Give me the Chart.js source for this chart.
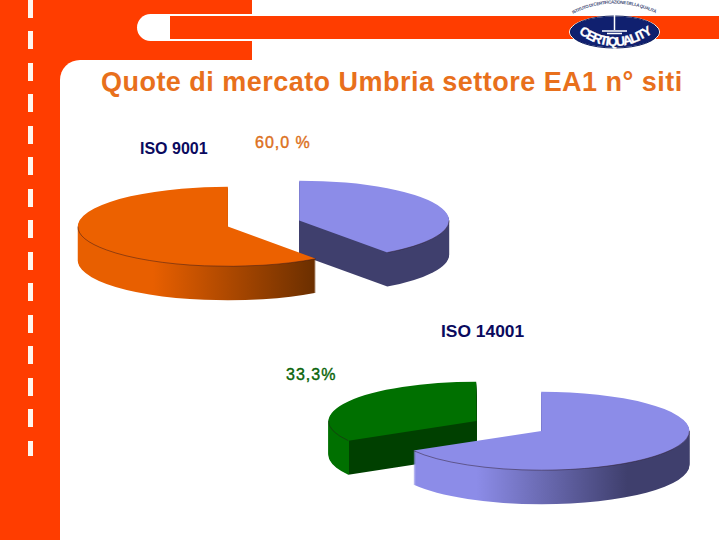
<!DOCTYPE html>
<html lang="it">
<head>
<meta charset="utf-8">
<title>Quote di mercato Umbria settore EA1</title>
<script src="https://cdn.jsdelivr.net/npm/chart.js@4"></script>
<style>
html,body{margin:0;padding:0;background:#fff;}
#page{position:relative;width:720px;height:540px;overflow:hidden;background:#fff;font-family:"Liberation Sans",Arial,sans-serif;}
.red{position:absolute;background:#ff3d00;}
.abs{position:absolute;white-space:nowrap;line-height:1;font-weight:bold;}
canvas{position:absolute;}
</style>
</head>
<body>
<div id="page">
  <!-- slide frame -->
  <div class="red" style="left:0;top:0;width:60px;height:540px"></div>
  <div class="red" style="left:60px;top:0;width:192px;height:60px"></div>
  <div style="position:absolute;left:60px;top:60px;width:30px;height:30px;background:#ff3d00"></div>
  <div style="position:absolute;left:60px;top:60px;width:40px;height:40px;background:#fff;border-top-left-radius:20px"></div>
  <div style="position:absolute;left:137px;top:14px;width:120px;height:27px;background:#fff;border-radius:14px 0 0 14px"></div>
  <div class="red" style="left:170px;top:16px;width:549px;height:23px"></div>
  <div style="position:absolute;left:28px;top:0;width:5px;height:456px;background:repeating-linear-gradient(to bottom,#fff6ee 0,#fff6ee 18px,#ff3d00 18px,#ff3d00 31.5px)"></div>

  <!-- logo -->
  <svg style="position:absolute;left:560px;top:0" width="110" height="55" viewBox="0 0 110 55">
    <defs>
      <path id="arcTop" d="M13 14 Q54 -7 97 14"/>
      <path id="arcBottom" d="M17 32 Q54 60 94 32"/>
    </defs>
    <ellipse cx="54.5" cy="32" rx="45" ry="16" fill="#10206f" stroke="#fff" stroke-width="1"/>
    <ellipse cx="54.5" cy="32" rx="44" ry="16" fill="none" stroke="#0b1a5c"/>
    <path d="M54.5 8V30M42 31H67M47 33.500H62" stroke="#fff" stroke-width="1.500" fill="none"/>
    <text font-size="4.500" fill="#4a5580" font-family="Liberation Sans" font-weight="bold"><textPath href="#arcTop" textLength="86">ISTITUTO DI CERTIFICAZIONE DELLA QUALITÀ</textPath></text>
    <text font-size="13" fill="#fff" stroke="#fff" stroke-width="0.300" font-family="Liberation Sans" font-weight="bold"><textPath href="#arcBottom" startOffset="2" textLength="80">CERTIQUALITY</textPath></text>
  </svg>

  <div class="abs" style="left:101px;top:69px;font-size:27px;letter-spacing:0.470px;color:#e8701c">Quote di mercato Umbria settore EA1 n° siti</div>
  <div class="abs" style="left:140px;top:141px;font-size:16px;color:#0a0a5e">ISO 9001</div>
  <div class="abs" style="left:255px;top:135px;font-size:16px;color:#dc7020;font-weight:normal;-webkit-text-stroke:0.400px #dc7020;letter-spacing:1px">60,0 %</div>
  <div class="abs" style="left:441px;top:323px;font-size:17.400px;color:#0a0a5e">ISO 14001</div>
  <div class="abs" style="left:286px;top:367px;font-size:16px;color:#0a640a;font-weight:normal;-webkit-text-stroke:0.400px #0a640a;letter-spacing:1px">33,3%</div>

  <canvas id="pie9001" width="401" height="401" style="left:63px;top:23px"></canvas>
  <canvas id="pie14001" width="400" height="228" style="left:309px;top:312px"></canvas>
</div>

<script>
// data
const iso9001Labels = ['Altri', 'ISO 9001'];
const iso9001Values = [40, 60];
const iso14001Labels = ['ISO 14001', 'Altri'];
const iso14001Values = [33.3, 66.7];

// fake 3d settings
const squash = 0.265;
const depth = 34;
const explode = 37.5;

// walls: x gradient over the slice width (left edge to right edge of its circle)
const walls9001 = [
  [[0, '#3f3f6d'], [1, '#3f3f6d']],
  [[0, '#e85f00'], [0.25, '#e85f00'], [0.79, '#6b2f00'], [1, '#6b2f00']]
];
const walls14001 = [
  [[0, '#007000'], [0.068, '#007000'], [0.069, '#004000'], [1, '#004000']],
  [[0, '#8c8ce8'], [0.28, '#8c8ce8'], [0.79, '#3f3f6d'], [1, '#3f3f6d']]
];

function slicePath(ctx, arc, from, to) {
  ctx.beginPath();
  if (from === undefined) {
    ctx.moveTo(arc.x, arc.y);
    ctx.arc(arc.x, arc.y, arc.outerRadius, arc.startAngle, arc.endAngle);
    ctx.closePath();
  } else {
    ctx.arc(arc.x, arc.y, arc.outerRadius, from, to);
  }
}

const pie3d = {
  id: 'pie3d',
  // pull every slice out of the centre, same radius for all of them
  afterDatasetsUpdate(chart) {
    chart.getDatasetMeta(0).data.forEach(arc => {
      const mid = (arc.startAngle + arc.endAngle) / 2;
      arc.x += Math.cos(mid) * explode;
      arc.y += Math.sin(mid) * explode;
    });
  },
  beforeDatasetsDraw(chart, args, opts) {
    const ctx = chart.ctx;
    const cy = (chart.chartArea.top + chart.chartArea.bottom) / 2;
    ctx.save();
    ctx.translate(0, cy);
    ctx.scale(1, squash);
    ctx.translate(0, -cy);
    chart.getDatasetMeta(0).data.forEach((arc, i) => {
      const grad = ctx.createLinearGradient(arc.x - arc.outerRadius, 0, arc.x + arc.outerRadius, 0);
      opts.walls[i].forEach(s => grad.addColorStop(s[0], s[1]));
      ctx.fillStyle = grad;
      for (let k = depth; k >= 1; k--) {
        ctx.save();
        ctx.translate(0, k / squash);
        slicePath(ctx, arc);
        ctx.fill();
        ctx.restore();
      }
    });
  },
  afterDatasetsDraw(chart) {
    const ctx = chart.ctx;
    // thin dark rim where the top meets the front wall
    chart.getDatasetMeta(0).data.forEach(arc => {
      [0, 2 * Math.PI].forEach(turn => {
        const from = Math.max(arc.startAngle, turn);
        const to = Math.min(arc.endAngle, turn + Math.PI);
        if (to <= from) return;
        slicePath(ctx, arc, from, to);
        ctx.save();
        ctx.setTransform(1, 0, 0, 1, 0, 0);
        ctx.strokeStyle = 'rgba(40,20,30,0.45)';
        ctx.lineWidth = 1;
        ctx.stroke();
        ctx.restore();
      });
    });
    ctx.restore();
  }
};

function makePie(id, labels, values, colors, radius, rotation, walls) {
  return new Chart(document.getElementById(id), {
    type: 'pie',
    data: {
      labels: labels,
      datasets: [{ data: values, backgroundColor: colors, borderWidth: 0 }]
    },
    options: {
      responsive: false,
      animation: false,
      events: [],
      radius: radius,
      rotation: rotation,
      plugins: {
        legend: { display: false },
        tooltip: { enabled: false },
        pie3d: { walls: walls }
      }
    },
    plugins: [pie3d]
  });
}

makePie('pie9001', iso9001Labels, iso9001Values, ['#8c8ce8', '#ec6100'], 150, 0, walls9001);
makePie('pie14001', iso14001Labels, iso14001Values, ['#007000', '#8c8ce8'], 148, 240, walls14001);
</script>
</body>
</html>
